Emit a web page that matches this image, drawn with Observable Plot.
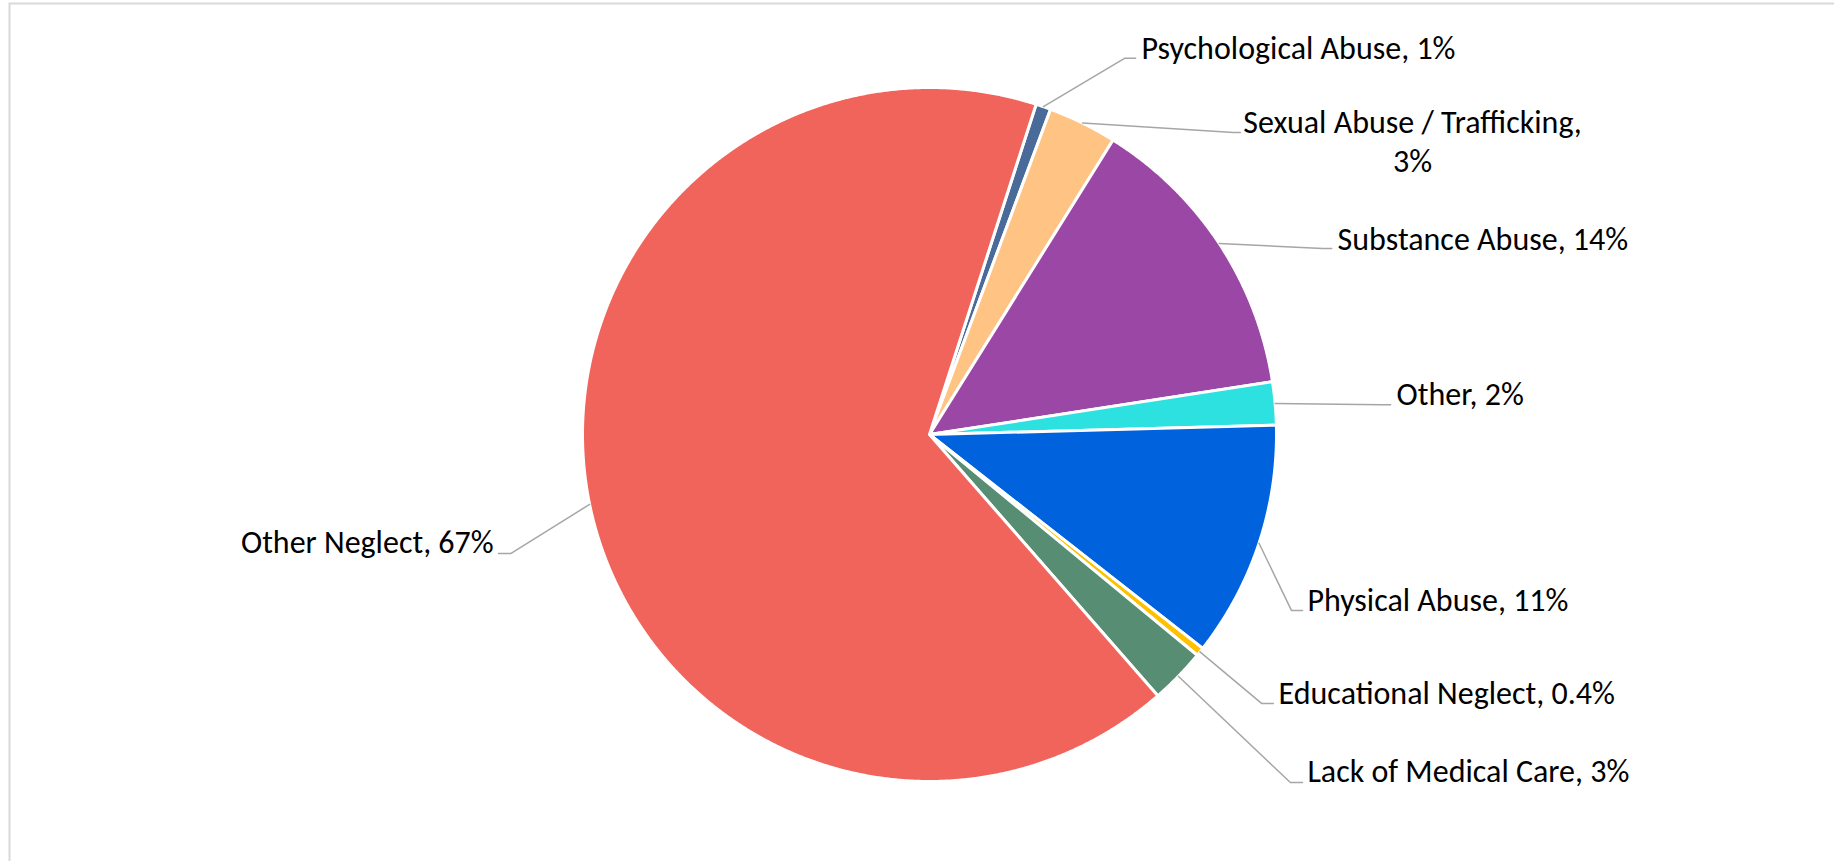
<!DOCTYPE html>
<html>
<head>
<meta charset="utf-8">
<script src="https://cdn.jsdelivr.net/npm/d3@7"></script>
<script src="https://cdn.jsdelivr.net/npm/@observablehq/plot@0.6"></script>
<style>
  html, body { margin: 0; padding: 0; background: #ffffff; }
</style>
</head>
<body>
<div id="chart"></div>
<script>
// ---- Data ----
const categories = [
  "Psychological Abuse",
  "Sexual Abuse / Trafficking",
  "Substance Abuse",
  "Other",
  "Physical Abuse",
  "Educational Neglect",
  "Lack of Medical Care",
  "Other Neglect"
];
const values = [0.7, 3.2, 13.7, 2.0, 11.0, 0.4, 2.6, 66.4];
const valueLabels = ["1%", "3%", "14%", "2%", "11%", "0.4%", "3%", "67%"];
const colors = ["#4a6b99", "#ffc483", "#9b47a6", "#2de1e0", "#0062dc", "#ffc000", "#578d72", "#f1645b"];
const firstSliceAngle = 17.9; // degrees clockwise from 12 o'clock

// ---- Layout (in pie-radius units) ----
const labelLayout = [
  {tx: 0.611, ty: 1.110, anchor: "start",  wrap: false, ex: 0.562, ey: 1.084, fx: 0.594, fy: 1.084},
  {tx: 1.392, ty: 0.840, anchor: "middle", wrap: true,  ex: 0.876, ey: 0.870, fx: 0.896, fy: 0.870},
  {tx: 1.176, ty: 0.559, anchor: "start",  wrap: false, ex: 1.133, ey: 0.536, fx: 1.159, fy: 0.536},
  {tx: 1.346, ty: 0.112, anchor: "start",  wrap: false, ex: 1.303, ey: 0.086, fx: 1.329, fy: 0.086},
  {tx: 1.089, ty: -0.481, anchor: "start", wrap: false, ex: 1.043, ey: -0.507, fx: 1.075, fy: -0.507},
  {tx: 1.006, ty: -0.749, anchor: "start", wrap: false, ex: 0.957, ey: -0.775, fx: 0.991, fy: -0.775},
  {tx: 1.089, ty: -0.974, anchor: "start", wrap: false, ex: 1.040, ey: -1.003, fx: 1.075, fy: -1.003},
  {tx: -1.256, ty: -0.314, anchor: "end",  wrap: false, ex: -1.207, ey: -0.343, fx: -1.242, fy: -0.343}
];

// ---- Derived geometry from values ----
const total = d3.sum(values);
const rad = d => d * Math.PI / 180;
const slices = [];
const slicePoints = [];
let acc = 0;
values.forEach((v, i) => {
  const a0 = firstSliceAngle + acc / total * 360;
  acc += v;
  const a1 = firstSliceAngle + acc / total * 360;
  slices.push({name: categories[i], a0, a1, mid: (a0 + a1) / 2});
  slicePoints.push({name: categories[i], x: 0, y: 0});
  const steps = Math.max(2, Math.ceil((a1 - a0) / 0.25));
  for (let k = 0; k <= steps; k++) {
    const a = rad(a0 + (a1 - a0) * k / steps);
    slicePoints.push({name: categories[i], x: Math.sin(a), y: Math.cos(a)});
  }
});

const leaderPoints = [];
const labels = [];
slices.forEach((s, i) => {
  const L = labelLayout[i];
  const m = rad(s.mid);
  leaderPoints.push({name: s.name, x: Math.sin(m), y: Math.cos(m)});
  leaderPoints.push({name: s.name, x: L.ex, y: L.ey});
  leaderPoints.push({name: s.name, x: L.fx, y: L.fy});
  const text = L.wrap ? `${s.name},\n${valueLabels[i]}` : `${s.name}, ${valueLabels[i]}`;
  labels.push({name: s.name, text, x: L.tx, y: L.ty, anchor: L.anchor});
});

const textOpts = {x: "x", y: "y", text: "text", fontSize: 32, fill: "#000000", lineHeight: 1.22, lineAnchor: "middle", dy: -3};

const chart = Plot.plot({
  width: 1834,
  height: 861,
  marginLeft: 9,
  marginTop: 3,
  marginRight: -20,
  marginBottom: -20,
  style: {fontFamily: "Carlito, Calibri, Lato, sans-serif", background: "#ffffff"},
  x: {domain: [-1, 1], range: [582, 1276], axis: null},
  y: {domain: [-1, 1], range: [781, 87], axis: null},
  color: {domain: categories, range: colors},
  marks: [
    Plot.frame({stroke: "#d9d9d9", strokeWidth: 2}),
    Plot.line(slicePoints, {x: "x", y: "y", z: "name", fill: "name", stroke: "#ffffff", strokeWidth: 3, strokeLinejoin: "round", curve: "linear-closed"}),
    Plot.line(leaderPoints, {x: "x", y: "y", z: "name", stroke: "#a6a6a6", strokeWidth: 1.5, curve: "linear"}),
    Plot.text(labels.filter(d => d.anchor === "start"), {...textOpts, textAnchor: "start"}),
    Plot.text(labels.filter(d => d.anchor === "middle"), {...textOpts, textAnchor: "middle"}),
    Plot.text(labels.filter(d => d.anchor === "end"), {...textOpts, textAnchor: "end"})
  ]
});
document.getElementById("chart").appendChild(chart);
</script>
</body>
</html>
